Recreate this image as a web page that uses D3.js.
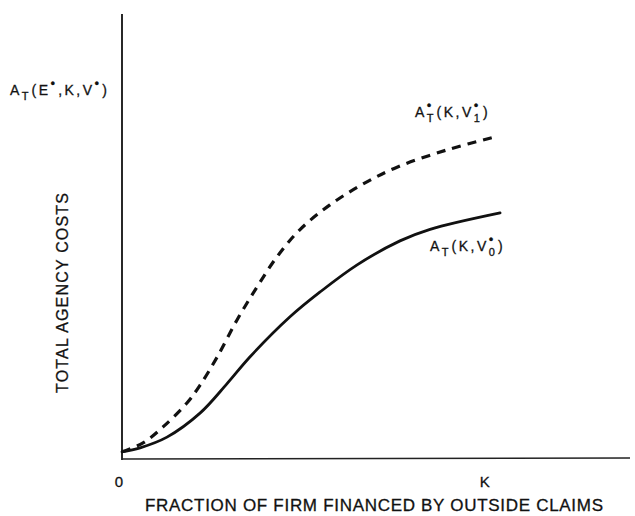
<!DOCTYPE html>
<html>
<head>
<meta charset="utf-8">
<script src="https://cdn.jsdelivr.net/npm/d3@7"></script>
<style>
	body { margin: 0; background: #fff; }
	svg text { font-family: "Liberation Sans", "DejaVu Sans", sans-serif; fill: #111; stroke: #111; stroke-width: 0.3; }
</style>
</head>
<body>
<div id="chart"></div>
<script>
(function() {
	"use strict";

	// x: fraction financed by outside claims (K = 1), y: total agency costs
	var xTickValues = [0, 1];
	var xTickLabels = ['0', 'K'];

	var dashedX = [0, 0.058, 0.113, 0.179, 0.215, 0.262, 0.317, 0.372, 0.427, 0.490, 0.573, 0.664, 0.758, 0.896, 1.036];
	var dashedY = [0.014, 0.034, 0.070, 0.124, 0.164, 0.227, 0.311, 0.385, 0.453, 0.514, 0.570, 0.617, 0.655, 0.694, 0.725];

	var solidX = [0, 0.050, 0.124, 0.215, 0.289, 0.353, 0.463, 0.546, 0.648, 0.766, 0.849, 1.042];
	var solidY = [0.014, 0.023, 0.047, 0.101, 0.167, 0.228, 0.318, 0.374, 0.435, 0.489, 0.515, 0.552];

	var width = 635, height = 516;
	var margin = { left: 122, top: 14, right: 5, bottom: 58 };

	var x = d3.scaleLinear().domain([0, 1.4]).range([margin.left, width - margin.right]);
	var y = d3.scaleLinear().domain([0, 1]).range([height - margin.bottom, margin.top]);

	var svg = d3.select('#chart')
		.append('svg')
		.attr('width', width)
		.attr('height', height);

	// axes: plain lines, no tick marks
	svg.append('line')
		.attr('x1', x(0)).attr('x2', x(0))
		.attr('y1', y(0) + 2).attr('y2', y(1))
		.attr('stroke', '#111')
		.attr('stroke-width', 1.8);

	svg.append('line')
		.attr('x1', x(0)).attr('x2', x(1.4))
		.attr('y1', y(0) + 1).attr('y2', y(0))
		.attr('stroke', '#222')
		.attr('stroke-width', 1.6);

	svg.selectAll('.x-tick')
		.data(xTickValues)
		.enter()
		.append('text')
		.classed('x-tick', true)
		.attr('x', function (d, i) { return x(d) - (i === 0 ? 3 : 0); })
		.attr('y', 487)
		.attr('text-anchor', 'middle')
		.style('font-size', '15px')
		.text(function (d, i) { return xTickLabels[i]; });

	svg.append('text')
		.attr('x', 145)
		.attr('y', 511)
		.attr('textLength', 458)
		.attr('lengthAdjust', 'spacing')
		.style('font-size', '17px')
		.text('FRACTION OF FIRM FINANCED BY OUTSIDE CLAIMS');

	svg.append('text')
		.attr('transform', 'translate(68,393) rotate(-90)')
		.attr('textLength', 200)
		.attr('lengthAdjust', 'spacing')
		.style('font-size', '16px')
		.text('TOTAL AGENCY COSTS');

	var line = d3.line()
		.x(function (d) { return x(d[0]); })
		.y(function (d) { return y(d[1]); })
		.curve(d3.curveCatmullRom.alpha(0.5));

	svg.append('path')
		.datum(d3.zip(solidX, solidY))
		.attr('d', line)
		.attr('fill', 'none')
		.attr('stroke', '#111')
		.attr('stroke-width', 2.8)
		.attr('stroke-linecap', 'round');

	svg.append('path')
		.datum(d3.zip(dashedX, dashedY))
		.attr('d', line)
		.attr('fill', 'none')
		.attr('stroke', '#111')
		.attr('stroke-width', 3.2)
		.attr('stroke-dasharray', '9,7');

	// curve labels: main text runs, with stacked super (dot) / subscript pairs
	function label(px, py, parts) {
		var g = svg.append('g').attr('transform', 'translate(' + px + ',' + py + ')');
		var cursor = 0;
		parts.forEach(function (p) {
			var t, w = 0;
			if (p.main) {
				t = g.append('text')
					.attr('x', cursor)
					.style('font-size', '14px')
					.style('letter-spacing', '2.5px')
					.text(p.main);
				cursor += t.node().getComputedTextLength();
				return;
			}
			if (p.sup) {
				t = g.append('text')
					.attr('x', cursor)
					.attr('y', -7)
					.style('font-size', '13px')
					.text(p.sup);
				w = Math.max(w, t.node().getComputedTextLength());
			}
			if (p.sub) {
				t = g.append('text')
					.attr('x', cursor)
					.attr('y', 5)
					.style('font-size', '11px')
					.text(p.sub);
				w = Math.max(w, t.node().getComputedTextLength());
			}
			cursor += w + 3;
		});
	}

	label(10, 95, [
		{ main: 'A' }, { sub: 'T' }, { main: '(E' }, { sup: '•' },
		{ main: ',K,V' }, { sup: '•' }, { main: ')' }
	]);

	label(415, 117, [
		{ main: 'A' }, { sup: '•', sub: 'T' }, { main: '(K,V' },
		{ sup: '•', sub: '1' }, { main: ')' }
	]);

	label(430, 251, [
		{ main: 'A' }, { sub: 'T' }, { main: '(K,V' },
		{ sup: '•', sub: '0' }, { main: ')' }
	]);
}());
</script>
</body>
</html>
